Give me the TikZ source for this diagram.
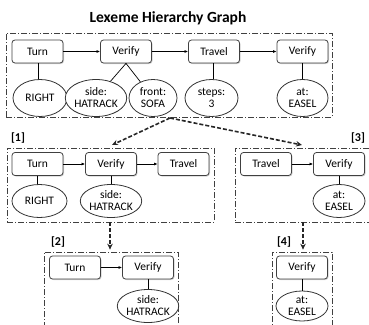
\documentclass[tikz,border=0pt]{standalone}
\usepackage{fontspec}
\setmainfont{Carlito}
\usetikzlibrary{arrows.meta,shadows,shapes.geometric}

\tikzset{
  lexbox/.style={draw=black!75, line width=0.8pt, rounded corners=3pt, fill=white,
    minimum width=51pt, minimum height=23pt, inner sep=1pt,
    font=\fontsize{11.5}{12}\selectfont,
    drop shadow={opacity=0.35, shadow xshift=1pt, shadow yshift=-1pt}},
  argell/.style={ellipse, draw=black!80, line width=0.8pt, fill=white,
    minimum width=52pt, minimum height=33pt, inner sep=0pt, align=center,
    font=\fontsize{11.5}{12}\selectfont},
  frame/.style={draw=black!75, line width=0.7pt,
    dash pattern=on 6pt off 2pt on 1pt off 2pt, inner sep=0pt},
  link/.style={draw=black, line width=0.7pt},
  seq/.style={link, -{Latex[length=3.5pt,width=3pt]}},
  split/.style={draw=black!85, line width=1.6pt, dash pattern=on 4pt off 2pt,
    -{Stealth[length=6pt,width=5.5pt]}},
  tag/.style={font=\fontsize{12}{12}\selectfont\bfseries}
}

\begin{document}
\begin{tikzpicture}[x=1pt,y=-1pt]
\useasboundingbox (0,0) rectangle (369,324);

% title
\node[font=\fontsize{15.5}{16}\selectfont\bfseries] (title) at (168,18) {Lexeme Hierarchy Graph};

% ---------- full graph ----------
\node[frame, minimum width=326pt, minimum height=84pt] (g0) at (169,75) {};
\node[lexbox] (a1) at (37.5,51.5) {Turn};
\node[lexbox] (a2) at (126,51.5) {Verify};
\node[lexbox] (a3) at (214,51.5) {Travel};
\node[lexbox] (a4) at (302.5,51.5) {Verify};
\node[argell, minimum height=37pt, minimum width=54pt] (e1) at (40,98) {RIGHT};
\node[argell, minimum height=37pt, minimum width=48pt] (e2) at (96,98) {side:\\HATRACK};
\node[argell, minimum height=37pt, minimum width=48pt] (e3) at (153,98) {front:\\SOFA};
\node[argell, minimum height=37pt, minimum width=53pt] (e4) at (211.5,98) {steps:\\3};
\node[argell, minimum height=37pt, minimum width=51pt] (e5) at (302.5,98) {at:\\EASEL};
\draw[seq] (a1) -- (a2);
\draw[seq] (a2) -- (a3);
\draw[seq] (a3) -- (a4);
\draw[link] (a1.south -| 38,0) -- (e1.north -| 38,0);
\draw[link] (a2.south) -- (e2);
\draw[link] (a2.south) -- (e3);
\draw[link] (a3.south -| 213,0) -- (e4.north -| 213,0);
\draw[link] (a4.south) -- (e5.north);

% ---------- [1] ----------
\node[tag] (t1) at (18,138) {[1]};
\node[frame, minimum width=207pt, minimum height=74pt] (g1) at (110.5,185) {};
\node[lexbox] (b1) at (37.5,164) {Turn};
\node[lexbox] (b2) at (111,164) {Verify};
\node[lexbox] (b3) at (183.5,164) {Travel};
\node[argell, minimum width=55pt] (f1) at (39.5,201) {RIGHT};
\node[argell] (f2) at (111,201) {side:\\HATRACK};
\draw[seq] (b1) -- (b2);
\draw[seq] (b2) -- (b3);
\draw[link] (b1.south) -- (f1.north -| b1.south);
\draw[link] (b2.south) -- (f2.north);

% ---------- [3] ----------
\node[tag] (t3) at (358,138) {[3]};
\node[frame, minimum width=140pt, minimum height=74pt] (g3) at (305,185) {};
\node[lexbox] (c1) at (266,164) {Travel};
\node[lexbox] (c2) at (339,164) {Verify};
\node[argell] (h1) at (339,201) {at:\\EASEL};
\draw[seq] (c1) -- (c2);
\draw[link] (c2.south) -- (h1.north);

% ---------- [2] ----------
\node[tag] (t2) at (58,242) {[2]};
\node[frame, minimum width=134pt, minimum height=80pt] (g2) at (111,292) {};
\node[lexbox] (d1) at (75,267.5) {Turn};
\node[lexbox] (d2) at (148,267.5) {Verify};
\node[argell] (k1) at (148,306) {side:\\HATRACK};
\draw[seq] (d1) -- (d2);
\draw[link] (d2.south) -- (k1.north);

% ---------- [4] ----------
\node[tag] (t4) at (284,242) {[4]};
\node[frame, minimum width=60pt, minimum height=80pt] (g4) at (302,292) {};
\node[lexbox] (m1) at (302,267.5) {Verify};
\node[argell, minimum height=30pt] (n1) at (302,306) {at:\\EASEL};
\draw[link] (m1.south) -- (n1.north);

% ---------- decomposition arrows ----------
\coordinate (s0) at (170,118);
\coordinate (p1) at (112,145);
\coordinate (p3) at (302,145);
\draw[split] (s0) -- (p1);
\draw[split] (s0) -- (p3);
\draw[split] (g1.south -| 110,0) -- ([yshift=2pt]g2.north -| 110,0);
\draw[split] (g3.south -| 303,0) -- ([yshift=2pt]g4.north -| 303,0);
\end{tikzpicture}
\end{document}
